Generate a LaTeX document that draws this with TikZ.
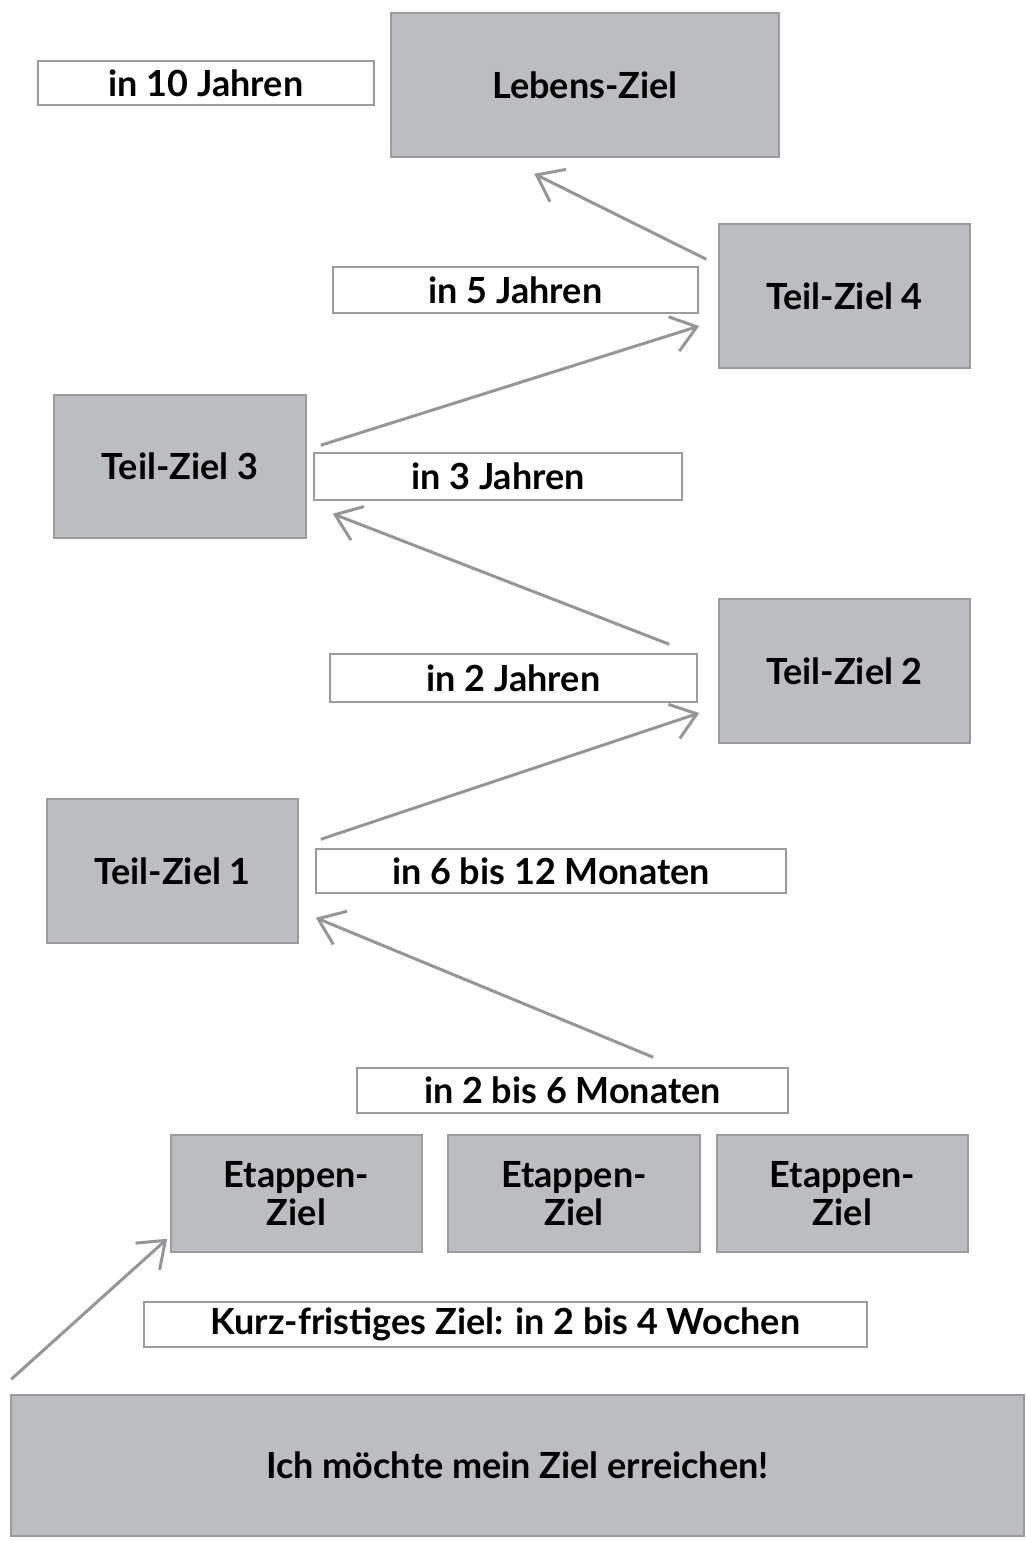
\documentclass[tikz,border=0pt]{standalone}
\usepackage{fontspec}
\setmainfont{Lato}
\usetikzlibrary{arrows.meta,calc}
\definecolor{boxfill}{RGB}{188,189,193}
\definecolor{boxline}{RGB}{155,155,157}
\definecolor{arr}{RGB}{150,150,152}
\tikzset{
  goal/.style={draw=boxline,line width=1.5pt,fill=boxfill,inner sep=0pt,
    font=\fontsize{36}{38}\selectfont\bfseries,align=center},
  lab/.style={draw=boxline,line width=1.5pt,fill=white,inner sep=0pt,
    font=\fontsize{36}{38}\selectfont\bfseries},
  conn/.style={draw=arr,line width=3pt,-{Straight Barb[length=24pt,width=36pt,line width=3pt]}}
}
\newcommand{\bx}[7]{% name style x1 y1 x2 y2 text
  \node[#2,minimum width={#5-#3},minimum height={#6-#4}] (#1) at ({(#3+#5)/2},{(#4+#6)/2}) {#7};}
\begin{document}
\begin{tikzpicture}[x=1pt,y=-1pt]
\useasboundingbox (0,0) rectangle (1025,1541);
\bx{l10}{lab}{38}{61}{374}{105}{in 10 Jahren}
\bx{lz}{goal}{391}{13}{779}{157}{Lebens-Ziel}
\bx{t4}{goal}{719}{224}{970}{368}{Teil-Ziel 4}
\bx{l5}{lab}{333}{267}{698}{313}{in 5 Jahren}
\bx{t3}{goal}{54}{395}{306}{538}{Teil-Ziel 3}
\bx{l3}{lab}{314}{453}{682}{500}{in 3 Jahren}
\bx{t2}{goal}{719}{599}{970}{743}{Teil-Ziel 2}
\bx{l2}{lab}{330}{654}{697}{702}{in 2 Jahren}
\bx{t1}{goal}{47}{799}{298}{943}{Teil-Ziel 1}
\bx{l612}{lab}{316}{849}{786}{893}{in 6 bis 12 Monaten}
\bx{l26}{lab}{357}{1068}{788}{1113}{in 2 bis 6 Monaten}
\bx{e1}{goal}{171}{1135}{422}{1252}{Etappen-\\Ziel}
\bx{e2}{goal}{448}{1135}{700}{1252}{Etappen-\\Ziel}
\bx{e3}{goal}{717}{1135}{968}{1252}{Etappen-\\Ziel}
\bx{kf}{lab}{144}{1302}{867}{1347}{Kurz-fristiges Ziel: in 2 bis 4 Wochen}
\bx{ich}{goal}{11}{1395}{1024}{1536}{Ich möchte mein Ziel erreichen!}
% connectors
\draw[conn] ($(t4.north west)+(-12,36)$) -- ($(lz.south west)+(144,16)$);
\draw[conn] ($(t3.north east)+(14,51)$) -- ($(t4.west)+(-19,30)$);
\draw[conn] ($(t2.north west)+(-49,46)$) -- ($(t3.south east)+(26,-25)$);
\draw[conn] ($(t1.north east)+(22,41)$) -- ($(t2.west)+(-19,42)$);
\draw[conn] ($(l26.north west)+(297,-10)$) -- ($(t1.south east)+(17,-26)$);
\draw[conn] ($(ich.north west)+(1,-15)$) -- ($(e1.south west)+(-3,-14)$);
\end{tikzpicture}
\end{document}
